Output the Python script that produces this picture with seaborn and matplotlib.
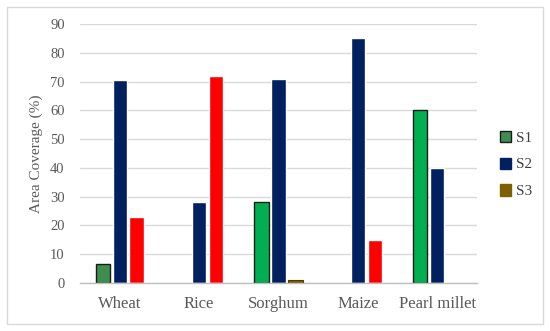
import matplotlib
matplotlib.use("Agg")
import matplotlib.pyplot as plt
import seaborn as sns
import pandas as pd
from matplotlib.patches import Rectangle, Patch

categories = ["Wheat", "Rice", "Sorghum", "Maize", "Pearl millet"]
series = ["S1", "S2", "S3"]
s1_values = [6.5, 0, 28, 0, 60]
s2_values = [70.5, 28, 71, 85, 40]
s3_values = [23, 72, 1, 15, 0]
y_ticks = [0, 10, 20, 30, 40, 50, 60, 70, 80, 90]

rows = []
for name, vals in zip(series, [s1_values, s2_values, s3_values]):
    for c, v in zip(categories, vals):
        rows.append({"crop": c, "series": name, "value": v})
df = pd.DataFrame(rows)

sns.set_theme(style="white")
plt.rcParams["font.family"] = ["Liberation Serif", "DejaVu Serif"]

fig = plt.figure(figsize=(5.5, 3.31), dpi=100)
ax = fig.add_axes([0.1455, 0.145, 0.7215, 0.7825])

palette = {"S1": "#00B050", "S2": "#002060", "S3": "#FF0000"}
sns.barplot(data=df, x="crop", y="value", hue="series", order=categories,
            hue_order=series, palette=palette, width=0.64, gap=0.15,
            saturation=1, legend=False, ax=ax, errorbar=None)

# styling per bar
for i, cont in enumerate(ax.containers):
    for j, bar in enumerate(cont):
        h = bar.get_height()
        if h == 0:
            bar.set_visible(False)
            continue
        if i == 0:
            bar.set_edgecolor("#1a1a1a")
            bar.set_linewidth(1.0)
            if j == 0:
                bar.set_facecolor("#3E8E50")
        elif i == 2 and h < 2:
            bar.set_facecolor("#7F6000")
            bar.set_edgecolor("#4a3a00")
            bar.set_linewidth(0.8)

ax.set_ylim(0, 90)
ax.set_yticks(y_ticks)
ax.yaxis.grid(True, color="#D9D9D9", linewidth=1.0)
ax.set_axisbelow(True)
for s in ["top", "right", "left"]:
    ax.spines[s].set_visible(False)
ax.spines["bottom"].set_color("#BFBFBF")
ax.spines["bottom"].set_linewidth(1.0)
ax.tick_params(axis="both", length=0, colors="#595959")
ax.tick_params(axis="y", labelsize=10.5, pad=11)
ax.tick_params(axis="x", labelsize=12, pad=9)
ax.set_xlabel("")
ax.set_ylabel("Area Coverage (%)", fontsize=11, color="#595959", labelpad=5)

handles = [Patch(facecolor="#3E8E50", edgecolor="#1a1a1a", label="S1"),
           Patch(facecolor="#002060", edgecolor="#002060", label="S2"),
           Patch(facecolor="#7F6000", edgecolor="#7F6000", label="S3")]
leg = fig.legend(handles=handles, loc="center left", bbox_to_anchor=(0.884, 0.503),
                 frameon=False, fontsize=11, handlelength=0.75, handleheight=0.75,
                 handletextpad=0.3, labelspacing=0.85)
for t in leg.get_texts():
    t.set_color("#404040")

fig.patches.append(Rectangle((0.0127, 0.021), 0.975, 0.958, transform=fig.transFigure,
                             fill=False, edgecolor="#D9D9D9", linewidth=1.0))

fig.savefig("out.png", dpi=100)
